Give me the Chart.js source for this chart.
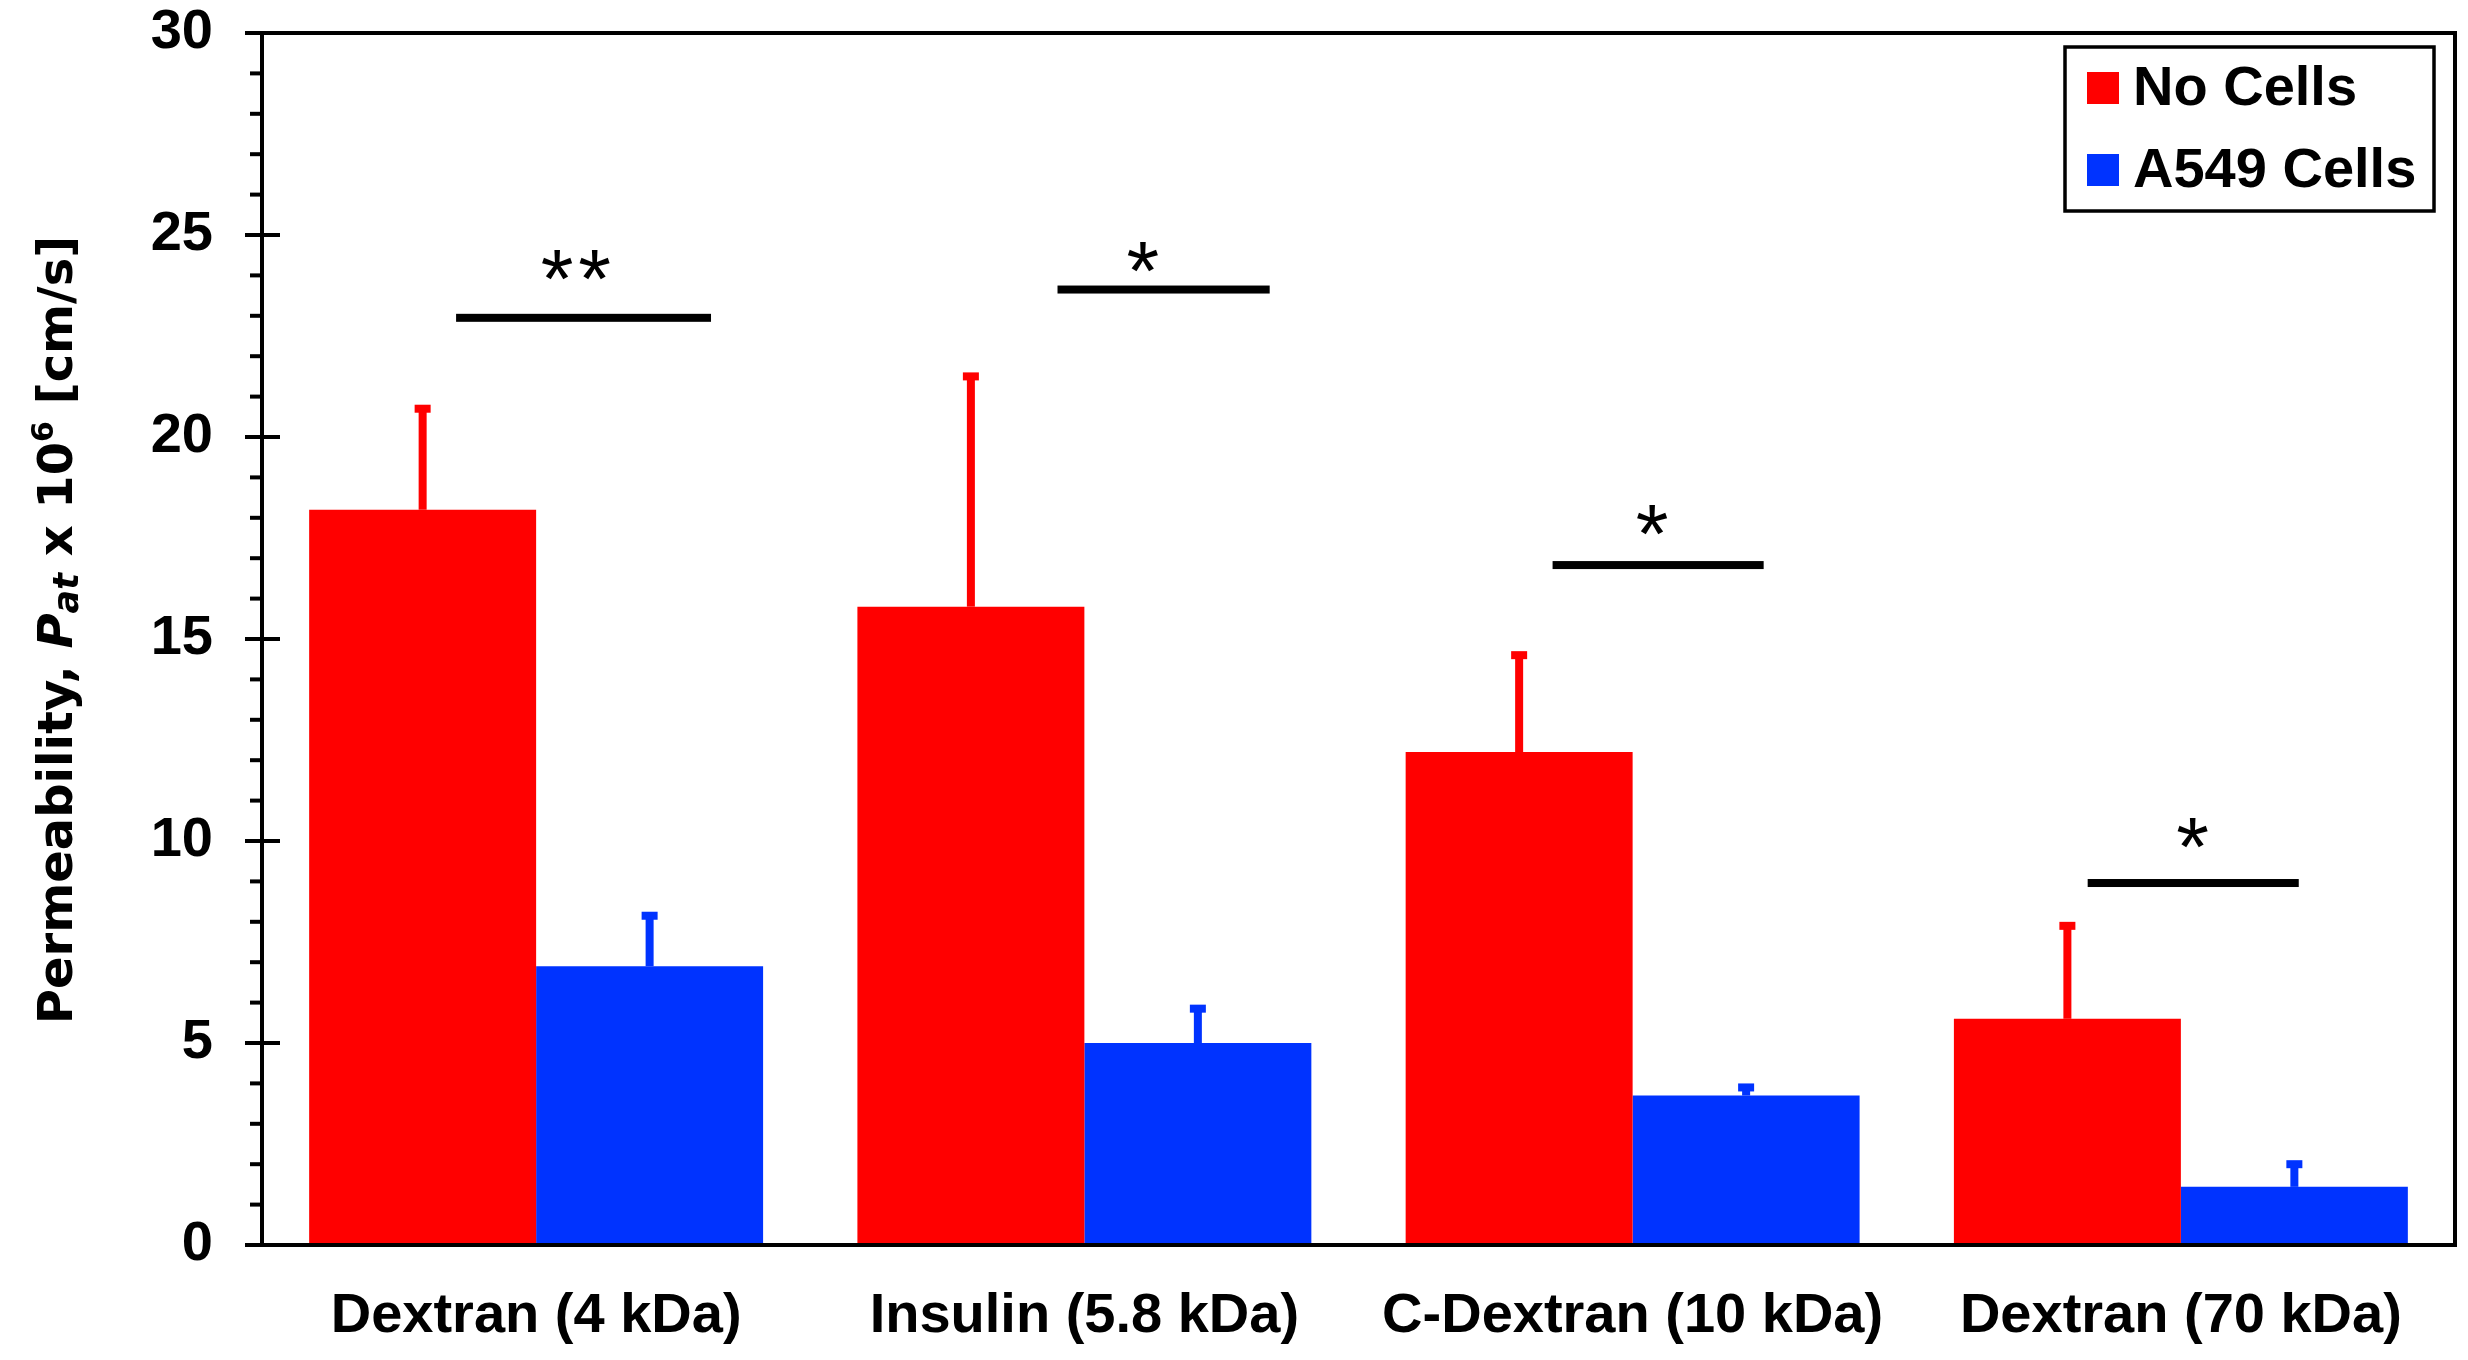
<!DOCTYPE html>
<html>
<head>
<meta charset="UTF-8">
<title>Permeability</title>
<script src="https://cdn.jsdelivr.net/npm/chart.js"></script>
<style>
    html, body { margin: 0; padding: 0; background: #fff; overflow: hidden; }
    #wrap { width: 2468px; height: 1360px; }
</style>
</head>
<body>
<div id="wrap"><canvas id="permChart" width="2468" height="1360"></canvas></div>
<script>
    // values
    const categories = ['Dextran (4 kDa)', 'Insulin (5.8 kDa)', 'C-Dextran (10 kDa)', 'Dextran (70 kDa)'];
    const seriesNames = ['No Cells', 'A549 Cells'];
    const noCells = [18.2, 15.8, 12.2, 5.6];
    const noCellsErr = [2.5, 5.7, 2.4, 2.3];
    const a549 = [6.9, 5.0, 3.7, 1.44];
    const a549Err = [1.25, 0.85, 0.2, 0.56];
    const yTicks = [0, 5, 10, 15, 20, 25, 30];

    // significance marks: level of the bar, level of the stars, span in category widths
    const sigMarks = ['**', '*', '*', '*'];
    const sigLevel = [22.95, 23.65, 16.83, 8.96];
    const starLevel = [24.38, 24.58, 18.07, 10.32];
    const sigFrom = [-0.146, -0.049, -0.146, -0.170];
    const sigTo = [0.319, 0.338, 0.239, 0.215];
    const starAt = [0.077, 0.111, 0.040, 0.026];

    const FONT = '"Liberation Sans", Arial, sans-serif';
    const RED = '#ff0000';
    const BLUE = '#0033ff';

    const frame = {
        id: 'frame',
        afterDraw(chart) {
            const {ctx, chartArea: a, scales: {y}} = chart;
            ctx.save();
            ctx.strokeStyle = '#000';
            ctx.lineWidth = 4;
            ctx.strokeRect(a.left, a.top, a.right - a.left, a.bottom - a.top);
            for (let v = y.min; v <= y.max; v++) {
                const py = y.getPixelForValue(v);
                const major = yTicks.includes(v);
                ctx.beginPath();
                ctx.moveTo(a.left - (major ? 17 : 12), py);
                ctx.lineTo(a.left + (major ? 18 : 0), py);
                ctx.stroke();
            }
            ctx.restore();
        }
    };

    const errorBars = {
        id: 'errorBars',
        afterDatasetsDraw(chart) {
            const {ctx, scales: {y}} = chart;
            chart.data.datasets.forEach((ds, di) => {
                const meta = chart.getDatasetMeta(di);
                ctx.save();
                ctx.fillStyle = ds.backgroundColor;
                meta.data.forEach((bar, i) => {
                    const top = y.getPixelForValue(ds.data[i] + ds.errors[i]);
                    ctx.fillRect(bar.x - 4, top, 8, bar.y - top);
                    ctx.fillRect(bar.x - 8, top - 4, 16, 8);
                });
                ctx.restore();
            });
        }
    };

    const significance = {
        id: 'significance',
        afterDatasetsDraw(chart) {
            const {ctx, scales: {x, y}} = chart;
            const cw = x.width / categories.length;
            ctx.save();
            ctx.fillStyle = '#000';
            categories.forEach((c, i) => {
                const cx = x.getPixelForValue(i);
                const ly = y.getPixelForValue(sigLevel[i]);
                ctx.fillRect(cx + sigFrom[i] * cw, ly - 4, (sigTo[i] - sigFrom[i]) * cw, 8);
                ctx.font = '84px ' + FONT;
                ctx.letterSpacing = '5px';
                ctx.textAlign = 'center';
                ctx.textBaseline = 'alphabetic';
                ctx.fillText(sigMarks[i], cx + starAt[i] * cw, y.getPixelForValue(starLevel[i]) + 48);
            });
            ctx.restore();
        }
    };

    const boxLegend = {
        id: 'boxLegend',
        afterDraw(chart) {
            const {ctx, chartArea: a} = chart;
            const left = a.right - 390, top = a.top + 14;
            ctx.save();
            ctx.strokeStyle = '#000';
            ctx.lineWidth = 3.5;
            ctx.strokeRect(left, top, 369, 164);
            ctx.font = 'bold 56px ' + FONT;
            ctx.textBaseline = 'middle';
            ctx.fillStyle = '#000';
            chart.data.datasets.forEach((ds, i) => {
                const cy = top + 41 + i * 82;
                ctx.fillStyle = ds.backgroundColor;
                ctx.fillRect(left + 22, cy - 16, 32, 32);
                ctx.fillStyle = '#000';
                ctx.fillText(ds.label, left + 68, cy + 2);
            });
            ctx.restore();
        }
    };

    const yTitle = {
        id: 'yTitle',
        afterDraw(chart) {
            const {ctx, chartArea: a} = chart;
            const size = 48;
            const parts = [
                {t: 'Permeability, ', f: 'bold ' + size + 'px', dy: 0},
                {t: 'P', f: 'italic bold ' + size + 'px', dy: 0},
                {t: 'at', f: 'italic bold ' + Math.round(size * 0.72) + 'px', dy: 6},
                {t: ' x 10', f: 'bold ' + size + 'px', dy: 0},
                {t: '6', f: 'bold ' + Math.round(size * 0.62) + 'px', dy: -19},
                {t: ' [cm/s]', f: 'bold ' + size + 'px', dy: 0}
            ];
            const fam = ' "DejaVu Sans", Verdana, sans-serif';
            ctx.save();
            let total = 0;
            parts.forEach(p => { ctx.font = p.f + fam; p.w = ctx.measureText(p.t).width; total += p.w; });
            ctx.translate(72, (a.top + a.bottom) / 2 - 9);
            ctx.rotate(-Math.PI / 2);
            ctx.fillStyle = '#000';
            ctx.textBaseline = 'alphabetic';
            let px = -total / 2;
            parts.forEach(p => {
                ctx.font = p.f + fam;
                ctx.fillText(p.t, px, p.dy);
                px += p.w;
            });
            ctx.restore();
        }
    };

    const ctx = document.getElementById('permChart').getContext('2d');
    new Chart(ctx, {
        type: 'bar',
        data: {
            labels: categories,
            datasets: [
                {label: seriesNames[0], data: noCells, errors: noCellsErr, backgroundColor: RED},
                {label: seriesNames[1], data: a549, errors: a549Err, backgroundColor: BLUE}
            ]
        },
        options: {
            responsive: false,
            animation: false,
            categoryPercentage: 0.828,
            barPercentage: 1,
            layout: {padding: {top: 33, right: 13, left: 0, bottom: 0}},
            plugins: {legend: {display: false}, tooltip: {enabled: false}},
            scales: {
                x: {
                    grid: {display: false, drawTicks: false},
                    border: {display: false},
                    ticks: {color: '#000', font: {family: FONT, size: 56, weight: 'bold', lineHeight: 1}, padding: 44, maxRotation: 0, autoSkip: false},
                    afterFit(s) { s.height = 115; s.paddingLeft = 0; s.paddingRight = 0; }
                },
                y: {
                    min: 0,
                    max: 30,
                    grid: {display: false, drawTicks: false},
                    border: {display: false},
                    ticks: {color: '#000', font: {family: FONT, size: 56, weight: 'bold', lineHeight: 1}, padding: 49},
                    afterBuildTicks(s) { s.ticks = yTicks.map(v => ({value: v})); },
                    afterFit(s) { s.width = 262; s.paddingTop = 0; s.paddingBottom = 0; }
                }
            }
        },
        plugins: [errorBars, significance, frame, boxLegend, yTitle]
    });
</script>
</body>
</html>
